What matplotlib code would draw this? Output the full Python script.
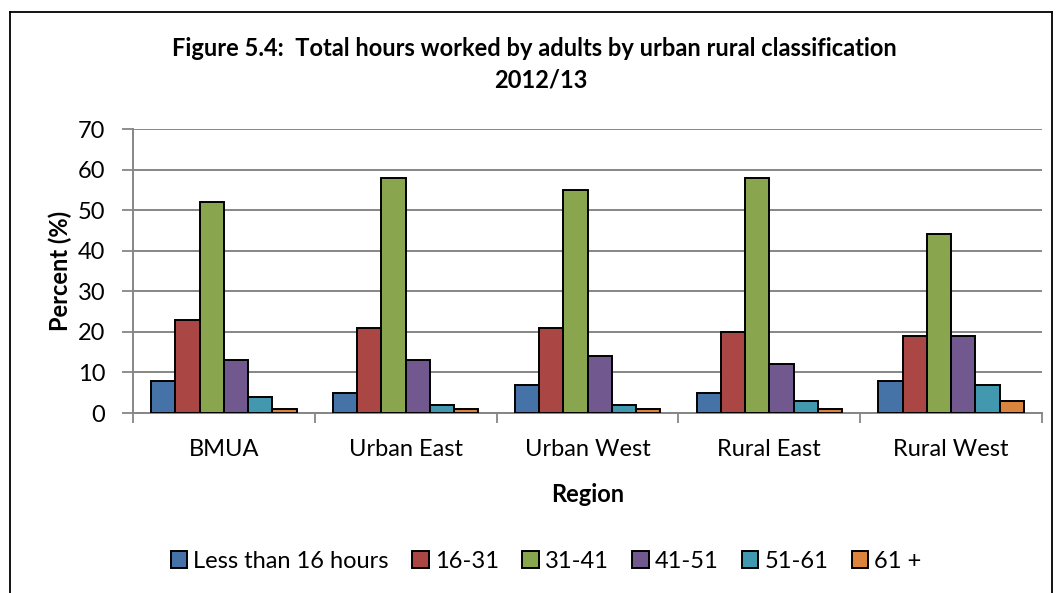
import matplotlib
matplotlib.use("Agg")
import matplotlib.pyplot as plt
import numpy as np
from matplotlib.lines import Line2D

regions = ["BMUA", "Urban East", "Urban West", "Rural East", "Rural West"]
series_names = ["Less than 16 hours", "16-31", "31-41", "41-51", "51-61", "61 +"]
less_than_16 = [8, 5, 7, 5, 8]
h16_31 = [23, 21, 21, 20, 19]
h31_41 = [52, 58, 55, 58, 44]
h41_51 = [13, 13, 14, 12, 19]
h51_61 = [4, 2, 2, 3, 7]
h61_plus = [1, 1, 1, 1, 3]
series_values = [less_than_16, h16_31, h31_41, h41_51, h51_61, h61_plus]
colors = ["#4572A7", "#AA4643", "#89A54E", "#71588F", "#4198AF", "#DB843D"]
yticks = [0, 10, 20, 30, 40, 50, 60, 70]

plt.rcParams['font.family'] = ['Lato', 'DejaVu Sans']
FS = 17

W, H = 1064, 593
fig = plt.figure(figsize=(W/100, H/100), dpi=100)
L, R, T, B = 133, 1042, 129, 413
ax = fig.add_axes([L/W, 1-B/H, (R-L)/W, (B-T)/H])

x = np.arange(len(regions))
n = len(series_names)
bw = 0.8 / n
for i, (name, vals) in enumerate(zip(series_names, series_values)):
    ax.bar(x - 0.4 + bw*(i+0.5), vals, width=bw, color=colors[i],
           edgecolor='black', linewidth=1.4, label=name, zorder=3)

ax.set_xlim(-0.5, len(regions)-0.5)
ax.set_ylim(0, 70)
ax.set_yticks(yticks)
ax.set_yticklabels([str(v) for v in yticks], fontsize=FS)
ax.yaxis.grid(True, color='#868686', linewidth=1.4, zorder=0)
ax.set_axisbelow(True)

ax.set_xticks(np.arange(-0.5, len(regions), 1.0))
ax.set_xticklabels([])
ax.set_xticks(x, minor=True)
ax.set_xticklabels(regions, minor=True, fontsize=FS)
ax.tick_params(axis='x', which='major', length=7, color='#868686', width=1.3)
ax.tick_params(axis='x', which='minor', length=0, pad=19)
ax.tick_params(axis='y', length=8, color='#868686', width=1.3, pad=12)

for s in ['top', 'right']:
    ax.spines[s].set_visible(False)
for s in ['left', 'bottom']:
    ax.spines[s].set_color('#868686')
    ax.spines[s].set_linewidth(1.4)

ax.set_ylabel("Percent (%)", fontsize=FS, fontweight='bold')
ax.yaxis.label.set_va('center')
ax.yaxis.set_label_coords(-(L-60)/(R-L), 0.5)
ax.set_xlabel("Region", fontsize=FS, fontweight='bold')
ax.xaxis.label.set_va('center')
ax.xaxis.set_label_coords(0.5, -(495-B)/(B-T))

fig.text(534/W, 1-49/H, "Figure 5.4:  Total hours worked by adults by urban rural classification",
         ha='center', va='center', fontsize=FS, fontweight='bold')
fig.text(541/W, 1-80/H, "2012/13", ha='center', va='center', fontsize=FS, fontweight='bold')

leg = fig.legend(loc='center', bbox_to_anchor=(546/W, 1-561/H), ncol=6, frameon=False,
                 fontsize=FS, handlelength=0.7, handleheight=0.7, handletextpad=0.25,
                 columnspacing=1.0, borderpad=0, borderaxespad=0)

# outer chart border
lw = 1.3
fig.add_artist(Line2D([10/W, 10/W], [0, 1-12/H], transform=fig.transFigure, color='black', lw=lw))
fig.add_artist(Line2D([10/W, 1052/W], [1-12/H, 1-12/H], transform=fig.transFigure, color='black', lw=lw))
fig.add_artist(Line2D([1052/W, 1052/W], [0, 1-12/H], transform=fig.transFigure, color='black', lw=lw))

fig.savefig("out.png", dpi=100)
